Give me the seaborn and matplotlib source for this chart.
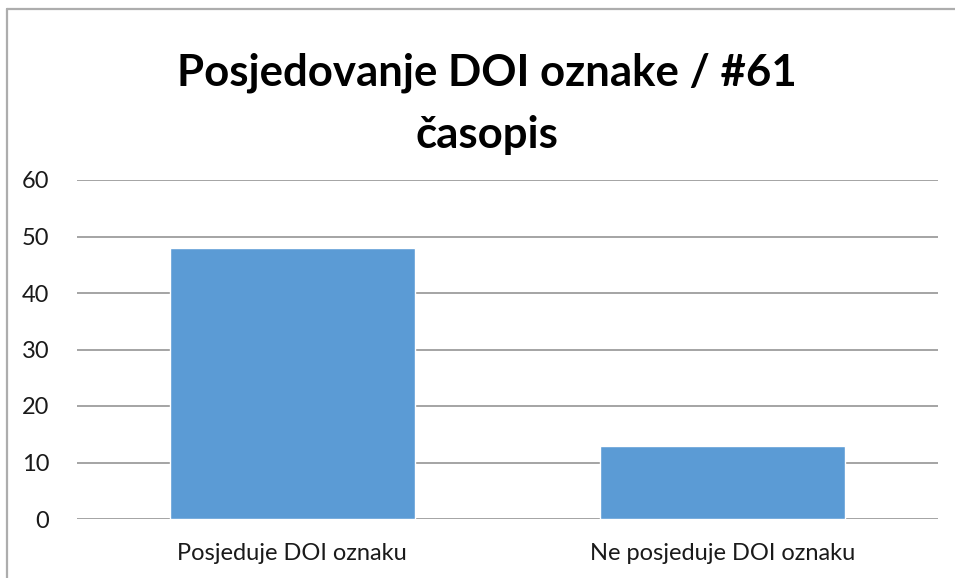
import pandas as pd
import seaborn as sns
import matplotlib.pyplot as plt
from matplotlib.lines import Line2D

sns.set_theme(style="white")
plt.rcParams["font.family"] = ["Lato", "DejaVu Sans"]

categories = ["Posjeduje DOI oznaku", "Ne posjeduje DOI oznaku"]
counts = [48, 13]
title = "Posjedovanje DOI oznake / #61\nčasopis"

data = pd.DataFrame({"kategorija": categories, "broj": counts})

fig = plt.figure(figsize=(9.55, 5.78), dpi=100)
ax = fig.add_axes([77 / 955, 1 - 519 / 578, (938 - 77) / 955, (519 - 180) / 578])

sns.barplot(data=data, x="kategorija", y="broj", color="#5B9BD5", saturation=1,
            width=0.57, ax=ax, zorder=3)

ax.set_ylim(0, 60)
ax.set_xlim(-0.5, 1.5)
ax.set_yticks(range(0, 61, 10))
ax.yaxis.grid(True, color="#8C8C8C", linewidth=1.1, zorder=0)
ax.set_axisbelow(True)
for s in ax.spines.values():
    s.set_visible(False)
ax.tick_params(axis="y", length=0, pad=20, labelsize=17, labelcolor="#1a1a1a")
ax.tick_params(axis="x", length=0, pad=17, labelsize=17, labelcolor="#1a1a1a")
ax.set_xlabel("")
ax.set_ylabel("")

fig.text(487 / 955, 1 - 104 / 578, title, ha="center", va="center",
         fontsize=31.5, fontweight="bold", color="black", linespacing=1.68)

# outer chart frame (top and left edges visible)
fig.add_artist(Line2D([7 / 955, 1], [1 - 9 / 578, 1 - 9 / 578], color="#ADADAD", linewidth=1.6))
fig.add_artist(Line2D([7 / 955, 7 / 955], [0, 1 - 9 / 578], color="#ADADAD", linewidth=1.6))

fig.savefig("out.png", dpi=100)
